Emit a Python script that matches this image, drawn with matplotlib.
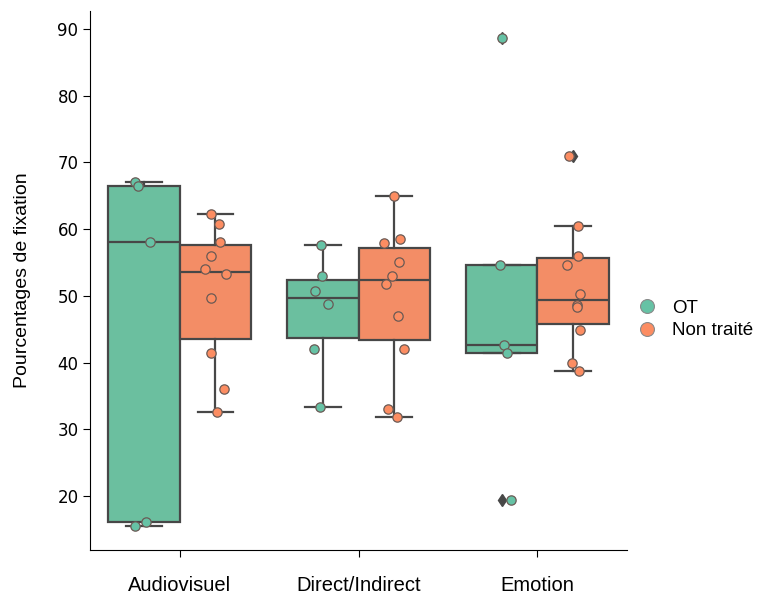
import numpy as np
import matplotlib.pyplot as plt
from matplotlib.lines import Line2D

categories = ["Audiovisuel", "Direct/Indirect", "Emotion"]
groups = ["OT", "Non traité"]

ot_values = [
    [67.1, 66.4, 58.0, 16.1, 15.5],
    [57.6, 53.0, 50.7, 48.8, 42.0, 33.4],
    [88.6, 54.6, 42.6, 41.4, 19.4],
]
non_traite_values = [
    [62.2, 60.7, 58.1, 56.0, 54.0, 53.3, 49.7, 41.5, 36.0, 32.6],
    [64.9, 58.5, 57.9, 55.1, 53.0, 51.8, 47.0, 42.1, 33.0, 31.8],
    [70.9, 60.5, 56.0, 54.7, 50.3, 48.6, 48.3, 44.9, 40.0, 38.7],
]

point_colors = ["#66c2a5", "#fc8d62"]
box_colors = ["#6bbf9f", "#f38d66"]
line_color = "#474747"

fig = plt.figure(figsize=(7.58, 5.94), dpi=100)
ax = fig.add_axes([0.119, 0.074, 0.708, 0.9075])

rng = np.random.default_rng(3)
width = 0.8
half = width / 2
x = np.arange(len(categories))

for g, data in enumerate([ot_values, non_traite_values]):
    pos = x - half / 2 + g * half
    ax.boxplot(data, positions=pos, widths=half, patch_artist=True,
               manage_ticks=False,
               boxprops=dict(facecolor=box_colors[g], edgecolor=line_color, linewidth=1.6),
               medianprops=dict(color=line_color, linewidth=1.6),
               whiskerprops=dict(color=line_color, linewidth=1.6),
               capprops=dict(color=line_color, linewidth=1.6),
               flierprops=dict(marker="d", markerfacecolor=line_color,
                               markeredgecolor=line_color, markersize=6.5))
    for p, vals in zip(pos, data):
        jit = rng.uniform(-0.06, 0.06, len(vals))
        ax.scatter(p + jit, vals, s=45, color=point_colors[g],
                   edgecolor="#6a5a55", linewidth=0.9, zorder=5)

ax.set_xlim(-0.5, 2.5)
ax.set_ylim(11.9, 92.7)
ax.set_xticks(x)
ax.set_xticklabels(categories, family="Liberation Sans", fontsize=14.5)
ax.tick_params(axis="x", pad=14, length=5)
ax.tick_params(axis="y", labelsize=12, length=5)
ax.set_ylabel("Pourcentages de fixation", family="Liberation Sans", fontsize=14)
ax.yaxis.set_label_coords(-0.11, 0.5)
ax.spines["top"].set_visible(False)
ax.spines["right"].set_visible(False)

handles = [Line2D([], [], marker="o", linestyle="", markersize=10,
                  markerfacecolor=c, markeredgecolor="#8a8a8a", markeredgewidth=0.8)
           for c in point_colors]
ax.legend(handles, groups, loc="center left", bbox_to_anchor=(1.0, 0.428),
          frameon=False, prop={"family": "Liberation Sans", "size": 13.5},
          handletextpad=0.5, labelspacing=0.3, borderaxespad=0.0,
          borderpad=0.3, handlelength=1.6)

fig.savefig("out.png", dpi=100)
